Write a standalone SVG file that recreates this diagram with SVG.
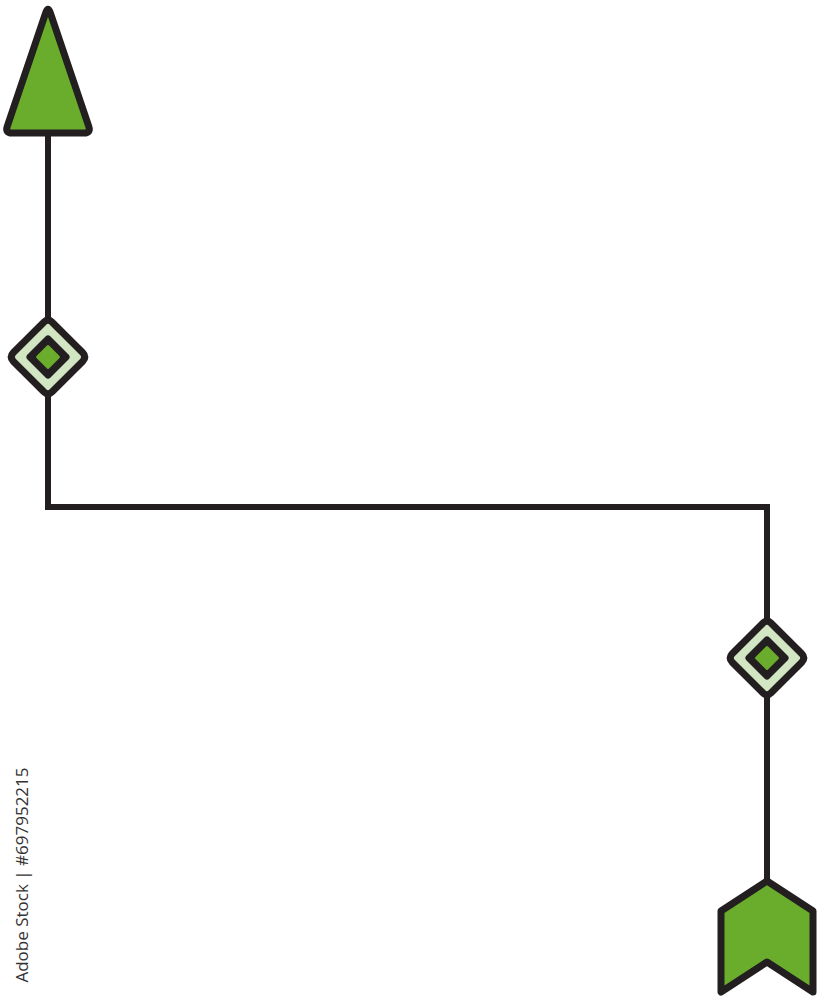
<svg xmlns="http://www.w3.org/2000/svg" width="820" height="1000" viewBox="0 0 820 1000">
<defs>
<path id="dOuter" d="M-4.2,-34.8 Q0,-39 4.2,-34.8 L34.8,-4.2 Q39,0 34.8,4.2 L4.2,34.8 Q0,39 -4.2,34.8 L-34.8,4.2 Q-39,0 -34.8,-4.2 Z"/>
<path id="dInner" d="M-2.5,-20.5 Q0,-23 2.5,-20.5 L20.5,-2.5 Q23,0 20.5,2.5 L2.5,20.5 Q0,23 -2.5,20.5 L-20.5,2.5 Q-23,0 -20.5,-2.5 Z"/>
<path id="dCore" d="M-1,-11.5 Q0,-12.5 1,-11.5 L11.5,-1 Q12.5,0 11.5,1 L1,11.5 Q0,12.5 -1,11.5 L-11.5,1 Q-12.5,0 -11.5,-1 Z"/>
</defs>
<style>
.ln{fill:none;stroke:#231f20;stroke-width:6;stroke-linejoin:miter}
.arr{fill:#6aad2d;stroke:#231f20;stroke-width:7;stroke-linejoin:round}
.outer{fill:#d3e6c3;stroke:#231f20;stroke-width:7;stroke-linejoin:round}
.inner{fill:#231f20}
.core{fill:#6aad2d}
.wm{font-family:"Open Sans","Liberation Sans",sans-serif;font-size:17px;fill:#333333}
</style>
<rect width="820" height="1000" fill="#fff"/>
<g id="connectors">
<polyline class="ln" points="48,130 48,318"/>
<polyline class="ln" points="48,396 48,507 767,507 767,620"/>
<polyline class="ln" points="767,696 767,882"/>
</g>
<g id="arrow-up">
<path class="arr" d="M45.75,12.6 Q48,6 50.25,12.6 L88.75,126.4 Q91,133 84,133 L12,133 Q5,133 7.25,126.4 Z"/>
</g>
<g id="diamond-left" transform="translate(48,357)">
<use href="#dOuter" class="outer"/>
<use href="#dInner" class="inner"/>
<use href="#dCore" class="core"/>
</g>
<g id="diamond-right" transform="translate(767,658)">
<use href="#dOuter" class="outer"/>
<use href="#dInner" class="inner"/>
<use href="#dCore" class="core"/>
</g>
<g id="arrow-down">
<polygon class="arr" points="767,881 813,911 813,992 767,962 721,992 721,911"/>
</g>
<text class="wm" transform="translate(28,875) rotate(-90)" text-anchor="middle">Adobe Stock | #697952215</text>
</svg>
